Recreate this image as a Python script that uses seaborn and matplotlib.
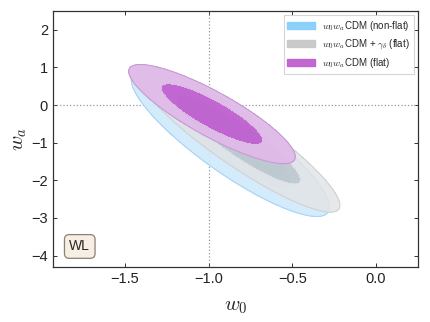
import numpy as np
import matplotlib.pyplot as plt
import seaborn as sns
from matplotlib.patches import Patch

sns.set_style('ticks')
plt.rcParams['font.family'] = ['Liberation Sans', 'DejaVu Sans']
plt.rcParams['mathtext.fontset'] = 'cm'

# Gaussian approximations of the posteriors: centre (w0, wa), sigma_w0, sigma_wa, correlation
labels = [r'$w_0w_a$CDM (non-flat)', r'$w_0w_a$CDM + $\gamma_\delta$ (flat)', r'$w_0w_a$CDM (flat)']
centres = [(-0.87, -1.02), (-0.82, -0.93), (-0.98, -0.24)]
sig_w0 = [0.238, 0.243, 0.200]
sig_wa = [0.78, 0.77, 0.53]
rho = [-0.87, -0.905, -0.86]
inner_cols = ['#c4e0f5', '#bcc5ca', '#c060d0']
outer_cols = ['#cfe9fb', '#e2e4e6', '#e0bbe8']
edge_cols = ['#a8d4f5', '#cfd2d4', '#c89ad4']
alphas = [0.9, 0.85, 0.95]

# 2D chi^2 levels for 68% and 95%
levels = [0.0, 2.30, 6.18]

w0 = np.linspace(-2.0, 0.4, 500)
wa = np.linspace(-4.5, 2.7, 500)
W0, WA = np.meshgrid(w0, wa)

fig = plt.figure(figsize=(4.3, 3.22), dpi=100)
ax = fig.add_axes([0.123, 0.171, 0.849, 0.795])

for i in range(3):
    cx, cy = centres[i]
    sx, sy, r = sig_w0[i], sig_wa[i], rho[i]
    dx = (W0 - cx) / sx
    dy = (WA - cy) / sy
    chi2 = (dx**2 - 2 * r * dx * dy + dy**2) / (1 - r**2)
    ax.contourf(W0, WA, chi2, levels=levels, colors=[inner_cols[i], outer_cols[i]],
                alpha=alphas[i], zorder=2 + i)
    ax.contour(W0, WA, chi2, levels=[6.18], colors=[edge_cols[i]], linewidths=0.8,
               zorder=2 + i)

ax.axvline(-1.0, color='#999999', ls=':', lw=0.9, zorder=1)
ax.axhline(0.0, color='#999999', ls=':', lw=0.9, zorder=1)

ax.set_xlim(-1.93, 0.25)
ax.set_ylim(-4.3, 2.5)
ax.set_xticks([-1.5, -1.0, -0.5, 0.0])
ax.set_yticks([-4, -3, -2, -1, 0, 1, 2])
ax.tick_params(direction='in', top=True, right=True, labelsize=10.5,
               length=3, width=0.7, colors='#333333', labelcolor='#222222')
for s in ax.spines.values():
    s.set_color('#333333')
    s.set_linewidth(0.9)

ax.set_xlabel(r'$w_0$', fontsize=15, labelpad=8)
ax.set_ylabel(r'$w_a$', fontsize=15, labelpad=2)

handles = [Patch(facecolor=c, edgecolor=c, alpha=0.95)
           for c in ['#87cefa', '#c8c8c8', '#c060d0']]
leg = ax.legend(handles, labels, loc='upper right', fontsize=7, frameon=True,
                fancybox=False, borderaxespad=0.4, handlelength=2.8, handletextpad=0.8)
leg.get_frame().set_edgecolor('#cccccc')
leg.get_frame().set_linewidth(0.8)

ax.text(0.045, 0.08, 'WL', transform=ax.transAxes, fontsize=10, ha='left', va='center',
        bbox=dict(boxstyle='round,pad=0.35', facecolor='#f8efe4', edgecolor='#8a8075', lw=0.9),
        zorder=10)

fig.savefig('out.png', dpi=100)
